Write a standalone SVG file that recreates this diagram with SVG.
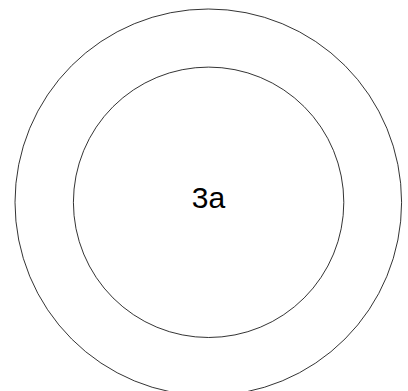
<svg xmlns="http://www.w3.org/2000/svg" width="408" height="391" viewBox="0 0 408 391">
<style>
.ring{fill:none;stroke:#000;stroke-width:0.8}
.lbl{font-family:"Liberation Sans",Arial,sans-serif;font-size:30px;fill:#000;text-anchor:middle}
</style>
<rect width="408" height="391" fill="#fff"/>
<g id="outer"><circle class="ring" cx="208.3" cy="202.3" r="193.3"/></g>
<g id="inner"><circle class="ring" cx="208.6" cy="202.3" r="135.2"/></g>
<g id="label"><text class="lbl" x="208.5" y="207.5">3a</text></g>
<g id="connectors"></g>
</svg>
